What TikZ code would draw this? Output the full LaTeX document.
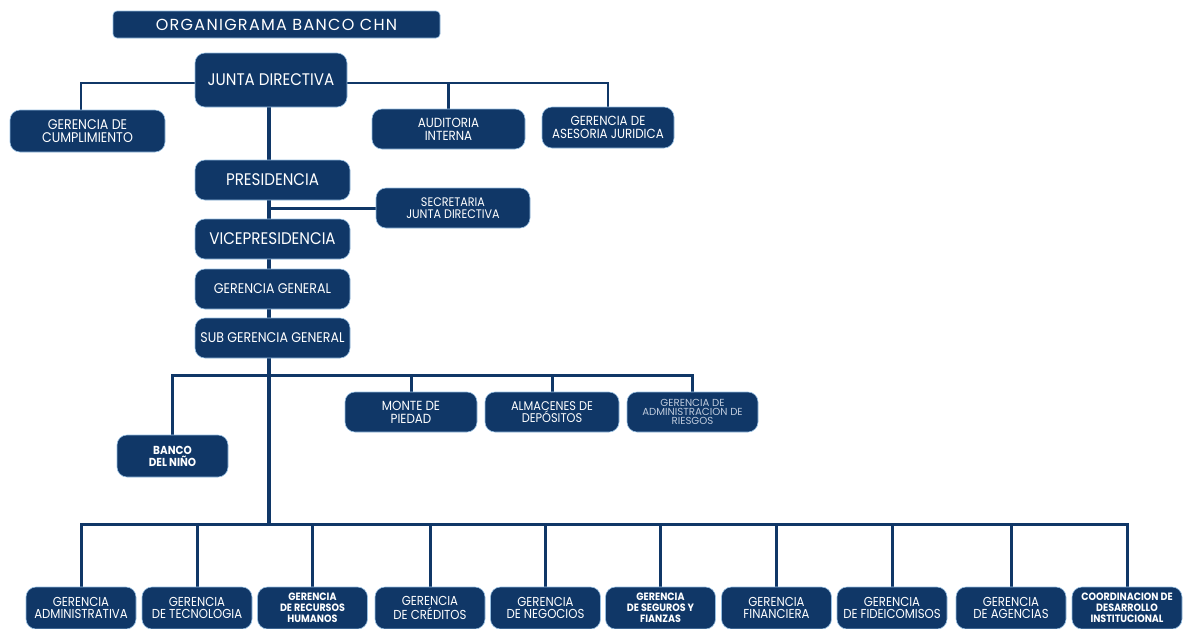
\documentclass[tikz,border=0pt]{standalone}
\usepackage{fontspec}
\usetikzlibrary{backgrounds}
\newfontfamily\pop[FakeStretch=0.9]{Poppins}
\newfontfamily\popn{Poppins}
\newfontfamily\poptitle[LetterSpace=8]{Poppins}
\definecolor{navy}{RGB}{16,55,103}
\definecolor{edge}{RGB}{150,190,225}
\definecolor{pale}{RGB}{190,202,220}
\begin{document}
\begin{tikzpicture}[x=0.5pt,y=-0.5pt,
  box/.style={rounded corners=5pt, fill=navy, draw=edge, line width=0.3pt, text=white, align=center, inner sep=0pt},
  conn/.style={draw=navy, line width=1.5pt},
  fbig/.style={font=\pop\fontsize{8.4}{9}\selectfont},
  fmid/.style={font=\pop\fontsize{7.0}{8}\selectfont},
  fsm/.style={font=\pop\fontsize{6.6}{6.4}\selectfont},
  fbot/.style={font=\pop\fontsize{6.5}{5.6}\selectfont},
  fbold/.style={font=\pop\bfseries\fontsize{5.3}{5.4}\selectfont},
  fbanco/.style={font=\pop\bfseries\fontsize{5.8}{6}\selectfont},
  frisk/.style={font=\popn\fontsize{5.1}{4.6}\selectfont, text=pale},
  bottom/.style={box, minimum width=55pt, minimum height=21pt}
]
\useasboundingbox (0,0) rectangle (1185,628);
\clip (0,0) rectangle (1185,628);

% title
\node[box, rounded corners=2pt, minimum width=163.5pt, minimum height=13.5pt, font=\poptitle\fontsize{8}{8}\selectfont] (title) at (276.5,24.5) {ORGANIGRAMA BANCO CHN};

% top level
\node[box, fbig, minimum width=76pt, minimum height=27pt] (junta) at (271,80) {JUNTA DIRECTIVA};
\node[box, fsm, font=\pop\fontsize{7}{6.6}\selectfont, minimum width=77.5pt, minimum height=21pt] (cumpl) at (87.5,131) {GERENCIA DE\\CUMPLIMIENTO};
\node[box, fsm, minimum width=76.5pt, minimum height=20pt] (audit) at (448.5,129) {AUDITORIA\\INTERNA};
\node[box, fsm, minimum width=66pt, minimum height=20.5pt] (ase) at (608,127.5) {GERENCIA DE\\ASESORIA JURIDICA};

% spine
\node[box, fbig, minimum width=77.5pt, minimum height=20pt] (pres) at (272.5,180) {PRESIDENCIA};
\node[box, fsm, font=\pop\fontsize{6.2}{6.2}\selectfont, minimum width=77pt, minimum height=20pt] (secr) at (453,208) {SECRETARIA\\JUNTA DIRECTIVA};
\node[box, fbig, minimum width=77.5pt, minimum height=20pt] (vice) at (272.5,239) {VICEPRESIDENCIA};
\node[box, fmid, minimum width=77.5pt, minimum height=20pt] (gg) at (272.5,289) {GERENCIA GENERAL};
\node[box, fmid, minimum width=77.5pt, minimum height=20pt] (sub) at (272.5,338) {SUB GERENCIA GENERAL};

% middle level
\node[box, fbanco, minimum width=55.5pt, minimum height=21pt] (banco) at (172.5,456) {BANCO\\DEL NIÑO};
\node[box, fsm, minimum width=66pt, minimum height=20pt] (monte) at (411,412) {MONTE DE\\PIEDAD};
\node[box, fsm, font=\pop\fontsize{6.3}{6.4}\selectfont, minimum width=67pt, minimum height=20pt] (alm) at (552,412) {ALMACENES DE\\DEPÓSITOS};
\node[box, frisk, minimum width=65.5pt, minimum height=20pt] (risk) at (692.5,412) {GERENCIA DE\\ADMINISTRACION DE\\RIESGOS};

% bottom level
\node[bottom, fbot] (adm) at (81,608) {GERENCIA\\ADMINISTRATIVA};
\node[bottom, fbot] (tec) at (197,608) {GERENCIA\\DE TECNOLOGIA};
\node[bottom, fbold] (rrhh) at (312.5,608) {GERENCIA\\DE RECURSOS\\HUMANOS};
\node[bottom, fbot] (cred) at (430,608) {GERENCIA\\DE CRÉDITOS};
\node[bottom, fbot] (neg) at (545.5,608) {GERENCIA\\DE NEGOCIOS};
\node[bottom, fbold] (seg) at (660.5,608) {GERENCIA\\DE SEGUROS Y\\FIANZAS};
\node[bottom, fbot] (fin) at (776.5,608) {GERENCIA\\FINANCIERA};
\node[bottom, fbot] (fide) at (892,608) {GERENCIA\\DE FIDEICOMISOS};
\node[bottom, fbot] (agen) at (1011,608) {GERENCIA\\DE AGENCIAS};
\node[bottom, fbold] (coord) at (1127,608) {COORDINACION DE\\DESARROLLO\\INSTITUCIONAL};

\coordinate (sp) at (269,0);
\coordinate (ca) at (81,0);
\coordinate (bA) at (0,83);
\coordinate (bB) at (0,375);
\coordinate (bC) at (0,524);

\begin{pgfonlayer}{background}
  % top bus
  \draw[conn, line width=1.2pt] (cumpl.north -| ca) -- (ca |- bA) -- (ase.north |- bA) -- (ase.north);
  \draw[conn, line width=1.2pt] (audit.north) -- (audit.north |- bA);
  % spine
  \draw[conn, line width=1.8pt] (junta.south -| sp) -- (sp |- bC);
  \draw[conn] (sp |- secr.west) -- (secr.west);
  % middle bus
  \draw[conn] (banco.north) -- (banco.north |- bB) -- (risk.north |- bB) -- (risk.north);
  \draw[conn] (monte.north) -- (monte.north |- bB);
  \draw[conn] (alm.north) -- (alm.north |- bB);
  % bottom bus
  \draw[conn] (adm.north) -- (adm.north |- bC) -- (coord.north |- bC) -- (coord.north);
  \foreach \n in {tec,rrhh,cred,neg,seg,fin,fide,agen}
    \draw[conn] (\n.north) -- (\n.north |- bC);
\end{pgfonlayer}
\end{tikzpicture}
\end{document}
